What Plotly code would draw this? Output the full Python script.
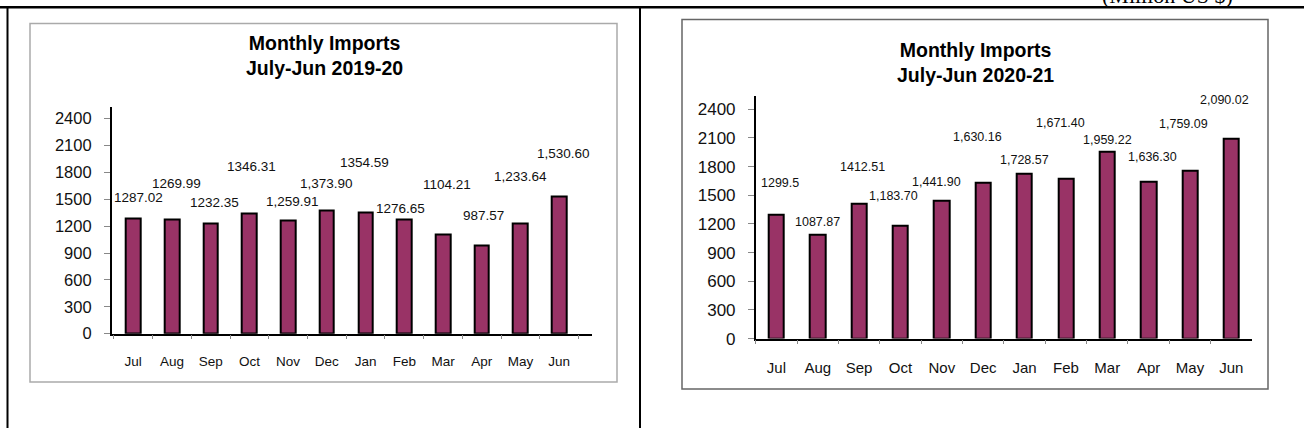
import plotly.graph_objects as go

# ---------------- data ----------------
months = ["Jul", "Aug", "Sep", "Oct", "Nov", "Dec", "Jan", "Feb", "Mar", "Apr", "May", "Jun"]

imports_2019_20 = [1287.02, 1269.99, 1232.35, 1346.31, 1259.91, 1373.90,
                   1354.59, 1276.65, 1104.21, 987.57, 1233.64, 1530.60]
labels_2019_20 = ["1287.02", "1269.99", "1232.35", "1346.31", "1,259.91", "1,373.90",
                  "1354.59", "1276.65", "1104.21", "987.57", "1,233.64", "1,530.60"]

imports_2020_21 = [1299.5, 1087.87, 1412.51, 1183.70, 1441.90, 1630.16,
                   1728.57, 1671.40, 1959.22, 1636.30, 1759.09, 2090.02]
labels_2020_21 = ["1299.5", "1087.87", "1412.51", "1,183.70", "1,441.90", "1,630.16",
                  "1,728.57", "1,671.40", "1,959.22", "1,636.30", "1,759.09", "2,090.02"]

y_ticks = [0, 300, 600, 900, 1200, 1500, 1800, 2100, 2400]

# label placement (pixel offsets from bar top), style only
lift_l = [21, 36, 21, 47, 19, 27, 50, 11, 50, 30, 47, 43]
dx_l = [5, 5, 3.5, 2, 4.5, 0, -1, -3.5, 3.5, 1.5, 0, 4]
lift_r = [31, 12.5, 37, 29, 19, 46, 13, 56, 11, 25, 46, 38.5]
dx_r = [4, 0, 3, -7, -5, -6, 0, -5, 0, 3.5, -6, -7]

W, H = 1304, 438
BAR = "#993366"
FONT = "Liberation Sans, Arial, sans-serif"


def px(x):
    return x / W


def py(y):
    return 1 - y / H


fig = go.Figure()

fig.add_trace(go.Bar(x=months, y=imports_2019_20, width=0.38,
                     marker=dict(color=BAR, line=dict(color="black", width=2)),
                     xaxis="x", yaxis="y", showlegend=False, hoverinfo="x+y"))
fig.add_trace(go.Bar(x=months, y=imports_2020_21, width=0.37,
                     marker=dict(color=BAR, line=dict(color="black", width=2)),
                     xaxis="x2", yaxis="y2", showlegend=False, hoverinfo="x+y"))

annotations = []
for m, v, t, lf, dx in zip(months, imports_2019_20, labels_2019_20, lift_l, dx_l):
    annotations.append(dict(x=m, y=v, xref="x", yref="y", text=t, showarrow=False,
                            yanchor="middle", xanchor="center", yshift=lf, xshift=dx,
                            font=dict(family=FONT, size=13.5, color="#111")))
for m, v, t, lf, dx in zip(months, imports_2020_21, labels_2020_21, lift_r, dx_r):
    annotations.append(dict(x=m, y=v, xref="x2", yref="y2", text=t, showarrow=False,
                            yanchor="middle", xanchor="center", yshift=lf, xshift=dx,
                            font=dict(family=FONT, size=12.5, color="#111")))

# titles
annotations.append(dict(x=px(324), y=py(56.5), xref="paper", yref="paper", showarrow=False,
                        text="<b>Monthly Imports</b><br><b>July-Jun 2019-20</b>",
                        xanchor="center", yanchor="middle",
                        font=dict(family=FONT, size=19.5, color="black")))
annotations.append(dict(x=px(975), y=py(64), xref="paper", yref="paper", showarrow=False,
                        text="<b>Monthly Imports</b><br><b>July-Jun 2020-21</b>",
                        xanchor="center", yanchor="middle",
                        font=dict(family=FONT, size=19.5, color="black")))
# unit note (cut off at top, as in the source page)
annotations.append(dict(x=px(1167), y=py(-5), xref="paper", yref="paper", showarrow=False,
                        text="(Million US $)", xanchor="center", yanchor="middle",
                        font=dict(family="Liberation Serif, Times New Roman, serif", size=22,
                                  color="black")))

shapes = [
    # page frame lines
    dict(type="line", xref="paper", yref="paper", x0=0, x1=1, y0=py(7.5), y1=py(7.5),
         line=dict(color="black", width=2.5)),
    dict(type="line", xref="paper", yref="paper", x0=px(7.5), x1=px(7.5), y0=py(7.5), y1=0,
         line=dict(color="black", width=2)),
    dict(type="line", xref="paper", yref="paper", x0=px(640), x1=px(640), y0=py(7.5), y1=0,
         line=dict(color="black", width=2)),
    # chart boxes
    dict(type="rect", xref="paper", yref="paper", x0=px(30), x1=px(617), y0=py(391), y1=py(24),
         line=dict(color="#aaaaaa", width=1.5)),
    dict(type="rect", xref="paper", yref="paper", x0=px(682), x1=px(1268), y0=py(398), y1=py(20),
         line=dict(color="#666666", width=1.5)),
]

xcommon = dict(type="category", showgrid=False, showline=True, linecolor="black", linewidth=1.5,
               ticks="outside", tickson="boundaries", ticklen=4, tickcolor="#888",
               zeroline=False, fixedrange=True)
ycommon = dict(showgrid=False, showline=True, linecolor="black", linewidth=1.5,
               ticks="outside", ticklen=6, tickcolor="#888", tickvals=y_ticks,
               ticktext=[str(t) for t in y_ticks], zeroline=False, fixedrange=True)

fig.update_layout(
    width=W, height=H, autosize=False,
    margin=dict(l=0, r=0, t=0, b=0),
    paper_bgcolor="white", plot_bgcolor="white",
    bargap=0,
    xaxis=dict(domain=[px(111.7), px(591.7)], anchor="y",
               tickfont=dict(family=FONT, size=13.5, color="#111"),
               ticklabelstandoff=14, **xcommon),
    yaxis=dict(domain=[py(341.5), py(110)], anchor="x", range=[0, 2525],
               tickfont=dict(family=FONT, size=16.5, color="#111"),
               ticklabelstandoff=9, **ycommon),
    xaxis2=dict(domain=[px(755.7), px(1252)], anchor="y2",
                tickfont=dict(family=FONT, size=15, color="#111"),
                ticklabelstandoff=15, **xcommon),
    yaxis2=dict(domain=[py(346.5), py(98)], anchor="x2", range=[0, 2541],
                tickfont=dict(family=FONT, size=17, color="#111"),
                ticklabelstandoff=9, **ycommon),
    annotations=annotations,
    shapes=shapes,
)

post = ("var s=document.documentElement.style;s.margin='0';s.padding='0';s.overflow='hidden';"
        "s.height='438px';"
        "var b=document.body.style;b.margin='0';b.padding='0';b.overflow='hidden';b.height='438px';")
fig.write_html("out.html", config={"displayModeBar": False}, post_script=post)
